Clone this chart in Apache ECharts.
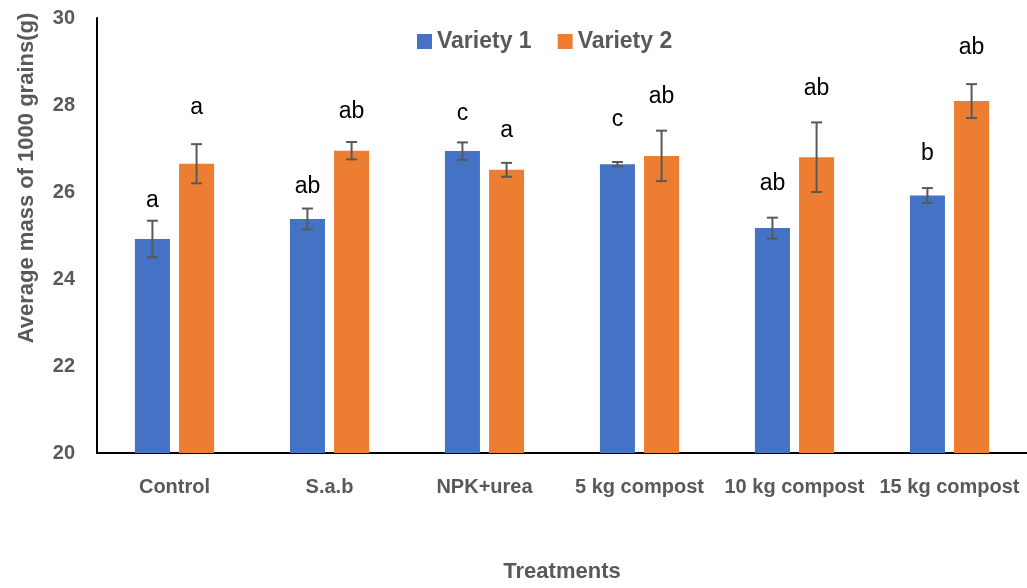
<!DOCTYPE html>
<html>
<head>
<meta charset="utf-8">
<script src="https://cdn.jsdelivr.net/npm/echarts@6/dist/echarts.min.js"></script>
<style>html,body{margin:0;padding:0;background:#fff;overflow:hidden}#c{width:1027px;height:588px}</style>
</head>
<body>
<div id="c"></div>
<script>
const categories = ['Control', 'S.a.b', 'NPK+urea', '5 kg compost', '10 kg compost', '15 kg compost'];
const variety1 = [24.92, 25.38, 26.94, 26.64, 25.17, 25.92];
const variety2 = [26.65, 26.95, 26.51, 26.83, 26.80, 28.09];
const err1 = [0.42, 0.24, 0.20, 0.05, 0.24, 0.17];
const err2 = [0.45, 0.20, 0.16, 0.58, 0.80, 0.39];
const letters1 = ['a', 'ab', 'c', 'c', 'ab', 'b'];
const letters2 = ['a', 'ab', 'a', 'ab', 'ab', 'ab'];
const letterAt1 = [25.79, 26.13, 27.79, 27.66, 26.20, 26.88];
const letterAt2 = [27.93, 27.84, 27.40, 28.19, 28.38, 29.32];
const yTicks = [20, 22, 24, 26, 28, 30];

const BAR_FR = 0.226, GAP_FR = 0.26;
const GRAY = '#595959';
const FONT = "'Liberation Sans', Arial, sans-serif";

function offsetFor(api, side) {
  const band = api.size([1, 0])[0];
  const bw = band * BAR_FR;
  return side * (bw + bw * GAP_FR) / 2;
}
function errRender(side) {
  return function (params, api) {
    const i = api.value(0), v = api.value(1), e = api.value(2);
    const x = api.coord([i, v])[0] + offsetFor(api, side);
    const top = api.coord([i, v + e])[1], bot = api.coord([i, v - e])[1];
    const cap = 5.5;
    const st = { stroke: GRAY, lineWidth: 2 };
    return { type: 'group', children: [
      { type: 'line', shape: { x1: x, y1: top, x2: x, y2: bot }, style: st },
      { type: 'line', shape: { x1: x - cap, y1: top, x2: x + cap, y2: top }, style: st },
      { type: 'line', shape: { x1: x - cap, y1: bot, x2: x + cap, y2: bot }, style: st }
    ]};
  };
}
function letterRender(side, letters) {
  return function (params, api) {
    const i = api.value(0), v = api.value(1);
    const p = api.coord([i, v]);
    return { type: 'text', x: p[0] + offsetFor(api, side), y: p[1],
      style: { text: letters[params.dataIndex], fill: '#000', font: "23px " + FONT, textAlign: 'center', textVerticalAlign: 'middle' } };
  };
}

const chart = echarts.init(document.getElementById('c'), null, { width: 1027, height: 588 });
chart.setOption({
  animation: false,
  grid: { left: 97, width: 930, top: 18, height: 440, containLabel: false },
  legend: {
    data: ['Variety 1', 'Variety 2'], left: 412, top: 25, icon: 'rect', itemWidth: 15, itemHeight: 15, itemGap: 26, itemStyle: { borderWidth: 0 },
    textStyle: { color: GRAY, fontSize: 23, fontWeight: 'bold', fontFamily: FONT }
  },
  xAxis: {
    type: 'category', data: categories,
    name: 'Treatments', nameLocation: 'middle', nameGap: 108,
    nameTextStyle: { color: GRAY, fontSize: 22, fontWeight: 'bold', fontFamily: FONT },
    axisLine: { lineStyle: { color: '#000', width: 2 } },
    axisTick: { show: false },
    axisLabel: { color: GRAY, fontSize: 20, fontWeight: 'bold', fontFamily: FONT, margin: 24, interval: 0 }
  },
  yAxis: {
    type: 'value', min: yTicks[0], max: yTicks[yTicks.length - 1], interval: 2,
    axisLine: { show: true, lineStyle: { color: '#000', width: 2 } },
    axisTick: { show: false }, splitLine: { show: false },
    axisLabel: { color: GRAY, fontSize: 20, fontWeight: 'bold', fontFamily: FONT, margin: 22 }
  },
  graphic: [{
    type: 'text', x: 27, y: 178, rotation: Math.PI / 2,
    style: { text: 'Average mass of 1000 grains(g)', fill: GRAY, font: "bold 22px " + FONT, textAlign: 'center', textVerticalAlign: 'middle' }
  }],
  series: [
    { name: 'Variety 1', type: 'bar', data: variety1, barWidth: (BAR_FR * 100) + '%', barGap: (GAP_FR * 100) + '%', itemStyle: { color: '#4472C4' } },
    { name: 'Variety 2', type: 'bar', data: variety2, barWidth: (BAR_FR * 100) + '%', barGap: (GAP_FR * 100) + '%', itemStyle: { color: '#ED7D31' } },
    { type: 'custom', renderItem: errRender(-1), data: variety1.map((v, i) => [i, v, err1[i]]), z: 5 },
    { type: 'custom', renderItem: errRender(1), data: variety2.map((v, i) => [i, v, err2[i]]), z: 5 },
    { type: 'custom', renderItem: letterRender(-1, letters1), data: letterAt1.map((v, i) => [i, v]), z: 6 },
    { type: 'custom', renderItem: letterRender(1, letters2), data: letterAt2.map((v, i) => [i, v]), z: 6 }
  ]
});
</script>
</body>
</html>
